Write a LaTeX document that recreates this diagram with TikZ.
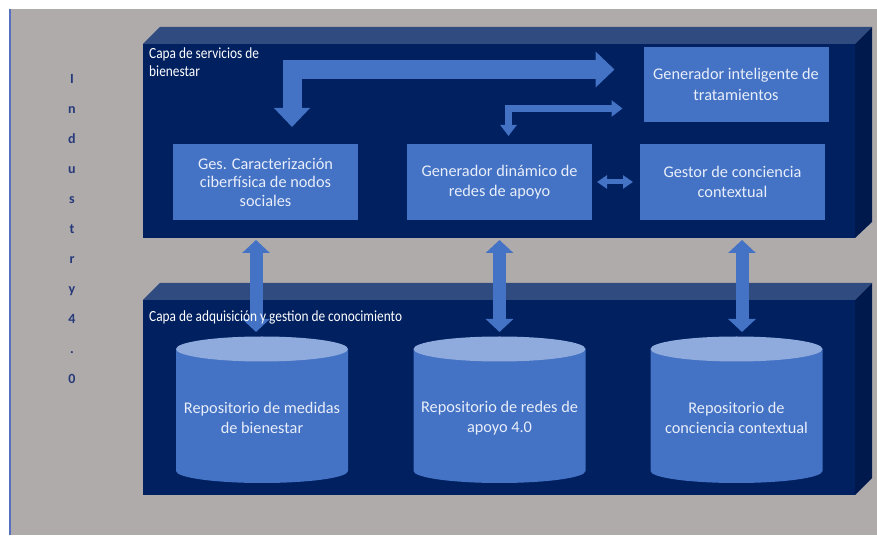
\documentclass[tikz,border=0pt]{standalone}
\usepackage{fontspec}
\setmainfont{Carlito}
\newfontfamily\condfont[FakeStretch=0.86]{Carlito}
\usetikzlibrary{arrows.meta}

\definecolor{bggray}{RGB}{175,171,171}
\definecolor{edgeblue}{RGB}{84,112,190}
\definecolor{navy}{RGB}{0,32,96}
\definecolor{navytop}{RGB}{48,75,128}
\definecolor{navyside}{RGB}{0,25,76}
\definecolor{boxblue}{RGB}{68,114,196}
\definecolor{cyltop}{RGB}{143,170,220}
\definecolor{txtcol}{RGB}{232,238,250}
\definecolor{indcol}{RGB}{38,57,122}

\tikzset{
    slabfront/.style={fill=navy, inner sep=0pt, outer sep=0pt},
    modbox/.style={fill=boxblue, text=txtcol, align=center, inner sep=0pt, outer sep=0pt,
        minimum width=185pt, minimum height=76pt, font=\fontsize{16.3}{20.5}\selectfont},
    reptext/.style={text=txtcol, align=center, font=\fontsize{16.3}{20}\selectfont},
    layerlabel/.style={text=white, align=left, inner sep=0pt, font=\condfont\fontsize{15.5}{17.5}\selectfont},
    bigarrow/.style={draw=boxblue, line width=19pt, line join=miter,
        {Triangle[width=35pt,length=19pt]}-{Triangle[width=35pt,length=19pt]}},
    smallarrow/.style={draw=boxblue, line width=7pt, line join=miter,
        {Triangle[width=16pt,length=11pt]}-{Triangle[width=16pt,length=11pt]}},
    midarrow/.style={draw=boxblue, line width=5pt,
        {Triangle[width=13pt,length=10pt]}-{Triangle[width=13pt,length=10pt]}},
    vlink/.style={draw=boxblue, line width=13pt,
        {Triangle[width=27pt,length=13pt]}-{Triangle[width=27pt,length=13pt]}}
}

\begin{document}
\begin{tikzpicture}[x=1pt, y=1pt]
        \useasboundingbox (0,0) rectangle (877,535);
        \fill[white] (0,0) rectangle (877,535);
        \fill[bggray] (9,0) rectangle (877,526);
        \draw[edgeblue, line width=1.5pt] (9.75,0) -- (9.75,526);

        % Industry 4.0
        \node[text=indcol, align=center, inner sep=0pt, anchor=north,
            font=\bfseries\fontsize{14}{30}\selectfont] (industry) at (72,461)
            {I\\n\\d\\u\\s\\t\\r\\y\\4\\.\\0};

        % capa de servicios
        \node[slabfront, minimum width=712pt, minimum height=194pt] (servicios) at (499,394) {};
        \fill[navytop] (servicios.north west) -- ++(17,17) -- ([shift={(17,17)}]servicios.north east) -- (servicios.north east) -- cycle;
        \fill[navyside] (servicios.north east) -- ++(17,17) -- ([shift={(17,16)}]servicios.south east) -- (servicios.south east) -- cycle;

        % capa de adquisicion
        \node[slabfront, minimum width=712pt, minimum height=195pt] (adquisicion) at (499,137.5) {};
        \fill[navytop] (adquisicion.north west) -- ++(17,17) -- ([shift={(17,17)}]adquisicion.north east) -- (adquisicion.north east) -- cycle;
        \fill[navyside] (adquisicion.north east) -- ++(17,17) -- ([shift={(17,17)}]adquisicion.south east) -- (adquisicion.south east) -- cycle;

        % modulos
        \node[modbox, font=\fontsize{16.3}{18.5}\selectfont] (ges) at (265.5,353) {Ges. Caracterización\\ciberfísica de nodos\\sociales};
        \node[modbox] (gdin) at (499.5,353) {Generador dinámico de\\redes de apoyo};
        \node[modbox] (gcon) at (732.5,353) {Gestor de conciencia\\contextual};
        \node[modbox, minimum height=75pt] (gint) at (736,450.5) {Generador inteligente de\\tratamientos};

        \draw[bigarrow, shorten <=29pt, shorten >=17pt] ([yshift=15pt]gint.west) -| ([xshift=26.5pt]ges.north);
        \draw[smallarrow, shorten <=21pt, shorten >=8pt] ([yshift=-24pt]gint.west) -| ([xshift=9pt]gdin.north);
        \draw[midarrow, shorten <=5pt, shorten >=7pt] (gdin.east) -- (gcon.west);

        % repositorios
        \fill[boxblue] (176,186) -- (176,64) arc[start angle=180, end angle=360, x radius=86, y radius=12] -- (348,186) -- cycle;
        \fill[cyltop] (262,186) ellipse [x radius=86, y radius=12.5];
        \fill[boxblue] (413.5,186) -- (413.5,64) arc[start angle=180, end angle=360, x radius=86, y radius=12] -- (585.5,186) -- cycle;
        \fill[cyltop] (499.5,186) ellipse [x radius=86, y radius=12.5];
        \fill[boxblue] (650.5,186) -- (650.5,64) arc[start angle=180, end angle=360, x radius=86, y radius=12] -- (822.5,186) -- cycle;
        \fill[cyltop] (736.5,186) ellipse [x radius=86, y radius=12.5];

        \node[reptext] (rep1) at (262,117) {Repositorio de medidas\\de bienestar};
        \node[reptext] (rep2) at (499.5,117) {Repositorio de redes de\\apoyo 4.0};
        \node[reptext] (rep3) at (736.5,117) {Repositorio de\\conciencia contextual};

        \coordinate (rep1top) at (256,203);
        \coordinate (rep2top) at (499.5,203);
        \coordinate (rep3top) at (742,203);
        \draw[vlink, shorten <=2pt] (rep1top |- servicios.south) -- (rep1top);
        \draw[vlink, shorten <=2pt] (rep2top |- servicios.south) -- (rep2top);
        \draw[vlink, shorten <=2pt] (rep3top |- servicios.south) -- (rep3top);

        % rotulos de capa
        \node[layerlabel, anchor=north west] (lblserv) at (149,487) {Capa de servicios de\\bienestar};
        \node[layerlabel, anchor=west] (lbladq) at (149,218) {Capa de adquisición y gestion de conocimiento};
    \end{tikzpicture}
\end{document}
